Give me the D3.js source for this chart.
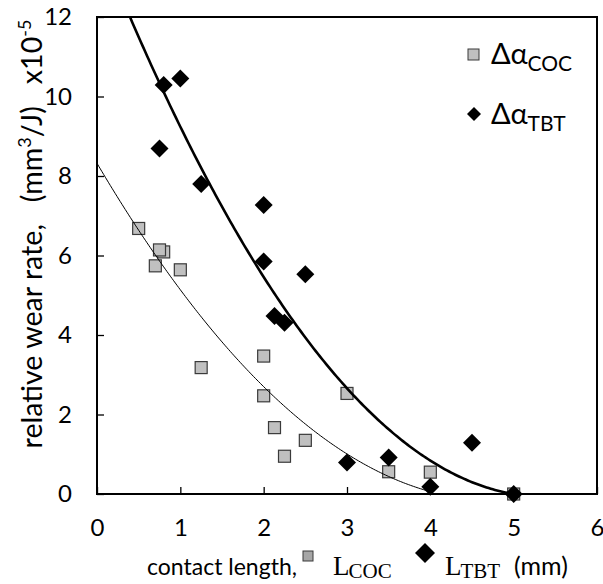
<!DOCTYPE html>
<html><head><meta charset="utf-8">
<script src="https://cdn.jsdelivr.net/npm/d3@7"></script>
<style>body{margin:0;background:#fff}svg{display:block}text{white-space:pre}</style>
</head><body>
<svg id="c" width="603" height="584"></svg>
<script>
// ---- data ----
const cocX = [0.5, 0.7, 0.8, 0.75, 1.0, 1.25, 2.0, 2.0, 2.13, 2.25, 2.5, 3.0, 3.5, 4.0, 5.0];
const cocY = [6.68, 5.74, 6.09, 6.14, 5.64, 3.18, 3.47, 2.47, 1.67, 0.95, 1.35, 2.53, 0.56, 0.55, 0];
const tbtX = [0.75, 0.8, 1.0, 1.25, 2.0, 2.0, 2.13, 2.25, 2.5, 3.0, 3.5, 4.0, 4.5, 5.0];
const tbtY = [8.69, 10.29, 10.45, 7.80, 7.27, 5.85, 4.48, 4.31, 5.53, 0.79, 0.92, 0.18, 1.29, 0];
// polynomial trendline coefficients (c0, c1, c2) and drawn ranges
const cocFit = [8.32, -3.555, 0.3725];
const cocFitRange = [0, 4];
const tbtFit = [14.0, -5.25, 0.49];
const tbtFitRange = [0, 5];
const xTicks = [0, 1, 2, 3, 4, 5, 6];
const yTicks = [0, 2, 4, 6, 8, 10, 12];

const svg = d3.select("#c");
const L = 97, R = 597, T = 17, B = 494;
const x = d3.scaleLinear().domain([0, 6]).range([L, R]);
const y = d3.scaleLinear().domain([0, 12]).range([B, T]);
const sans = "Lato, 'Open Sans', sans-serif";
const serif = "'Liberation Serif', 'DejaVu Serif', serif";

svg.append("defs").append("clipPath").attr("id", "clip")
  .append("rect").attr("x", L).attr("y", T).attr("width", R - L).attr("height", B - T);

// axes with inward ticks
const xa = svg.append("g").attr("transform", `translate(0,${B})`)
  .call(d3.axisBottom(x).tickValues(xTicks).tickSize(-7).tickPadding(25).tickFormat(d3.format("d")));
const ya = svg.append("g").attr("transform", `translate(${L},0)`)
  .call(d3.axisLeft(y).tickValues(yTicks).tickSize(-7).tickPadding(25).tickFormat(d3.format("d")));
[xa, ya].forEach(g => {
  g.select(".domain").remove();
  g.selectAll(".tick line").attr("stroke", "#000").attr("stroke-width", 1.3);
  g.selectAll(".tick text").attr("font-family", sans).attr("font-size", 24).attr("fill", "#000");
});
xa.selectAll(".tick text").attr("dy", "0.71em");

// frame
svg.append("rect").attr("x", L).attr("y", T).attr("width", R - L).attr("height", B - T)
  .attr("fill", "none").attr("stroke", "#000").attr("stroke-width", 2);

const diamond = r => `M0,${-r}L${r},0L0,${r}L${-r},0Z`;

// markers
const plot = svg.append("g");
plot.selectAll("rect.coc").data(cocX.map((v, i) => [v, cocY[i]])).join("rect")
  .attr("class", "coc")
  .attr("x", d => x(d[0]) - 6).attr("y", d => y(d[1]) - 6)
  .attr("width", 12).attr("height", 12)
  .attr("fill", "#c0c0c0").attr("stroke", "#3a3a3a").attr("stroke-width", 1.2);
plot.selectAll("path.tbt").data(tbtX.map((v, i) => [v, tbtY[i]])).join("path")
  .attr("class", "tbt")
  .attr("transform", d => `translate(${x(d[0])},${y(d[1])})`)
  .attr("d", diamond(9)).attr("fill", "#000");

// trendlines
const poly = (c, v) => c[0] + c[1] * v + c[2] * v * v;
const samples = (rng) => d3.range(rng[0], rng[1] + 1e-9, (rng[1] - rng[0]) / 200);
const line = c => d3.line().x(v => x(v)).y(v => y(poly(c, v)));
svg.append("path").attr("clip-path", "url(#clip)")
  .attr("d", line(cocFit)(samples(cocFitRange)))
  .attr("fill", "none").attr("stroke", "#000").attr("stroke-width", 1);
svg.append("path").attr("clip-path", "url(#clip)")
  .attr("d", line(tbtFit)(samples(tbtFitRange)))
  .attr("fill", "none").attr("stroke", "#000").attr("stroke-width", 2.6);

// legend
const lg = svg.append("g");
lg.append("rect").attr("x", 468).attr("y", 49).attr("width", 11).attr("height", 11)
  .attr("fill", "#c0c0c0").attr("stroke", "#3a3a3a").attr("stroke-width", 1);
lg.append("path").attr("transform", "translate(474,114)").attr("d", diamond(7)).attr("fill", "#000");
const lt1 = lg.append("text").attr("x", 491).attr("y", 64).attr("font-family", sans).attr("font-size", 29);
lt1.append("tspan").text("Δα");
lt1.append("tspan").attr("font-size", 21).attr("dy", 7).text("COC");
const lt2 = lg.append("text").attr("x", 491).attr("y", 124).attr("font-family", sans).attr("font-size", 29);
lt2.append("tspan").text("Δα");
lt2.append("tspan").attr("font-size", 21).attr("dy", 7).text("TBT");

// y title
const yt = svg.append("text").attr("transform", "translate(42,234) rotate(-90)")
  .attr("text-anchor", "middle").attr("font-family", sans).attr("font-size", 27).attr("fill", "#000");
yt.append("tspan").text("relative wear rate,   (mm");
yt.append("tspan").attr("font-size", 17).attr("dy", -11).text("3");
yt.append("tspan").attr("dy", 11).text("/J)   x10");
yt.append("tspan").attr("font-size", 17).attr("dy", -11).text("-5");
// fit the title to the span it occupies in the reference (y = 6 .. 462)
const ylen = yt.node().getComputedTextLength();
if (ylen > 0) {
  const k = Math.min(1.06, 456 / ylen);
  yt.attr("font-size", 27 * k);
  yt.selectAll("tspan").filter(function () { return this.getAttribute("font-size"); })
    .attr("font-size", 17 * k);
}

// x title
const xb = 575;
svg.append("text").attr("x", 147).attr("y", xb).attr("font-family", sans).attr("font-size", 23).text("contact length,");
svg.append("rect").attr("x", 303).attr("y", 551).attr("width", 10).attr("height", 10)
  .attr("fill", "#a6a6a6").attr("stroke", "#3a3a3a").attr("stroke-width", 1);
const lc = svg.append("text").attr("x", 333).attr("y", xb).attr("font-family", serif).attr("font-size", 27);
lc.append("tspan").text("L");
lc.append("tspan").attr("font-size", 21).attr("dy", 3).attr("dx", -1).text("COC");
svg.append("path").attr("transform", "translate(425,553)").attr("d", diamond(10)).attr("fill", "#000");
const lt = svg.append("text").attr("x", 445).attr("y", xb).attr("font-family", serif).attr("font-size", 27);
lt.append("tspan").text("L");
lt.append("tspan").attr("font-size", 21).attr("dy", 3).attr("dx", -1).text("TBT");
svg.append("text").attr("x", 514).attr("y", xb).attr("font-family", sans).attr("font-size", 25).text("(mm)");
</script>
</body></html>
